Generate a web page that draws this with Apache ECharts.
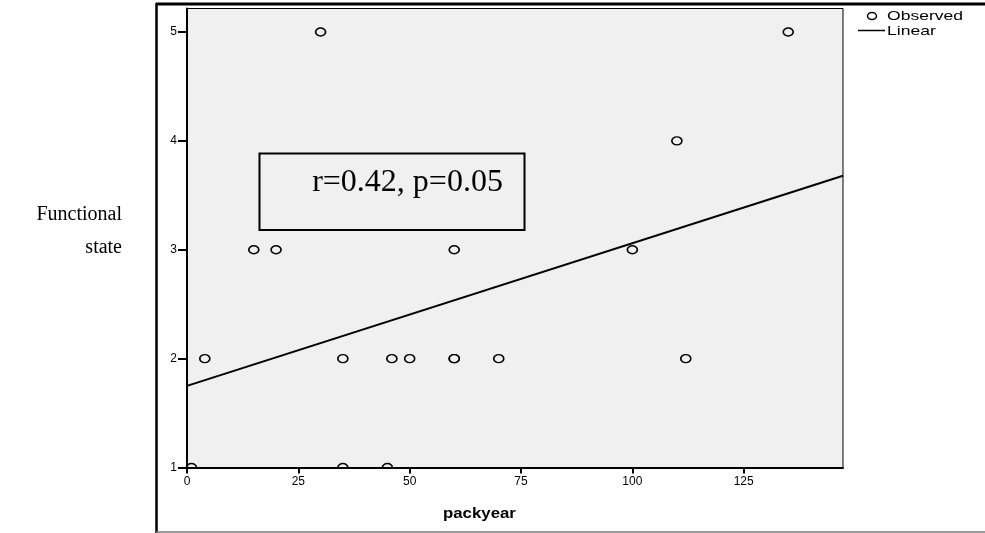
<!DOCTYPE html>
<html lang="en">
<head>
    <meta charset="UTF-8">
    <title>packyear vs functional state</title>
    <script src="https://cdn.jsdelivr.net/npm/echarts@6/dist/echarts.min.js"></script>
    <style>
        html, body { margin: 0; padding: 0; background: #fff; }
        #chart { width: 985px; height: 533px; }
    </style>
</head>
<body>
    <div id="chart"></div>
    <script type="text/javascript">
        // observed points (packyear, functional state)
        var packyear = [1, 4, 15, 20, 30, 35, 35, 45, 46, 50, 60, 60, 60, 70, 100, 110, 112, 135];
        var functionalState = [1, 2, 3, 3, 5, 2, 1, 1, 2, 2, 2, 2, 3, 2, 3, 4, 2, 5];
        // linear fit, ends of the line
        var fitX = [0, 147.3];
        var fitY = [1.75, 3.68];
        var xTicks = [0, 25, 50, 75, 100, 125];
        var yTicks = [1, 2, 3, 4, 5];
        var statText = 'r=0.42, p=0.05';

        var observed = [];
        for (var i = 0; i < packyear.length; i++) {
            observed.push([packyear[i], functionalState[i]]);
        }
        var linear = [];
        for (var j = 0; j < fitX.length; j++) {
            linear.push([fitX[j], fitY[j]]);
        }

        var sans = 'Arial, "Liberation Sans", sans-serif';
        var serif = '"Times New Roman", "Liberation Serif", serif';

        var myChart = echarts.init(document.getElementById('chart'));
        myChart.setOption({
            animation: false,
            grid: {
                left: 187, top: 8.5, right: 142, bottom: 65.5,
                show: true,
                backgroundColor: '#f0f0f0',
                borderColor: '#000',
                borderWidth: 1
            },
            xAxis: {
                type: 'value',
                min: 0, max: 147.3,
                z: 5,
                splitLine: { show: false },
                axisLine: { lineStyle: { color: '#000', width: 2 } },
                axisTick: { customValues: xTicks, length: 6, lineStyle: { color: '#000', width: 2 } },
                axisLabel: { customValues: xTicks, margin: 8, fontFamily: sans, fontSize: 12, color: '#000' }
            },
            yAxis: {
                type: 'value',
                min: 1, max: 5.216,
                z: 5,
                splitLine: { show: false },
                axisLine: { lineStyle: { color: '#000', width: 2 } },
                axisTick: { customValues: yTicks, length: 9, lineStyle: { color: '#000', width: 2 } },
                axisLabel: { customValues: yTicks, margin: 10, fontFamily: sans, fontSize: 12, color: '#000' }
            },
            series: [
                {
                    name: 'Observed',
                    type: 'scatter',
                    symbol: 'circle',
                    symbolSize: [10, 8],
                    itemStyle: { color: '#f0f0f0', borderColor: '#000', borderWidth: 1.5, opacity: 1 },
                    data: observed,
                    z: 2
                },
                {
                    name: 'Linear',
                    type: 'line',
                    symbol: 'none',
                    lineStyle: { color: '#000', width: 2 },
                    data: linear,
                    z: 2
                }
            ],
            graphic: [
                // hides the lower half of points sitting on the x axis
                { type: 'rect', z: 3, shape: { x: 180, y: 468.5, width: 670, height: 7 }, style: { fill: '#fff' } },
                // outer frame
                { type: 'line', shape: { x1: 156, y1: 4, x2: 985, y2: 4 }, style: { stroke: '#000', lineWidth: 3 } },
                { type: 'line', shape: { x1: 156.5, y1: 3, x2: 156.5, y2: 533 }, style: { stroke: '#000', lineWidth: 2.5 } },
                { type: 'line', shape: { x1: 156, y1: 532, x2: 985, y2: 532 }, style: { stroke: '#777', lineWidth: 1.5 } },
                // legend
                { type: 'ellipse', shape: { cx: 872, cy: 16, rx: 4.5, ry: 3.5 }, style: { fill: '#fff', stroke: '#000', lineWidth: 1.5 } },
                { type: 'text', x: 887, y: 16.5, scaleX: 1.35, style: { text: 'Observed', fontFamily: sans, fontSize: 13, fill: '#000', verticalAlign: 'middle' } },
                { type: 'line', shape: { x1: 858, y1: 30.5, x2: 885, y2: 30.5 }, style: { stroke: '#000', lineWidth: 1.5 } },
                { type: 'text', x: 887, y: 31, scaleX: 1.35, style: { text: 'Linear', fontFamily: sans, fontSize: 13, fill: '#000', verticalAlign: 'middle' } },
                // annotation box
                { type: 'rect', z: 4, shape: { x: 259.5, y: 153.5, width: 265, height: 76.5 }, style: { fill: 'none', stroke: '#000', lineWidth: 2 } },
                { type: 'text', z: 4, x: 407.5, y: 183, style: { text: statText, fontFamily: serif, fontSize: 32, fill: '#000', align: 'center', verticalAlign: 'middle' } },
                // axis titles
                { type: 'text', x: 122, y: 215, style: { text: 'Functional', fontFamily: serif, fontSize: 20, fill: '#000', align: 'right', verticalAlign: 'middle' } },
                { type: 'text', x: 122, y: 248, style: { text: 'state', fontFamily: serif, fontSize: 20, fill: '#000', align: 'right', verticalAlign: 'middle' } },
                { type: 'text', x: 443, y: 514, scaleX: 1.12, style: { text: 'packyear', fontFamily: sans, fontSize: 15, fontWeight: 'bold', fill: '#000', verticalAlign: 'middle' } }
            ]
        });
    </script>
</body>
</html>
